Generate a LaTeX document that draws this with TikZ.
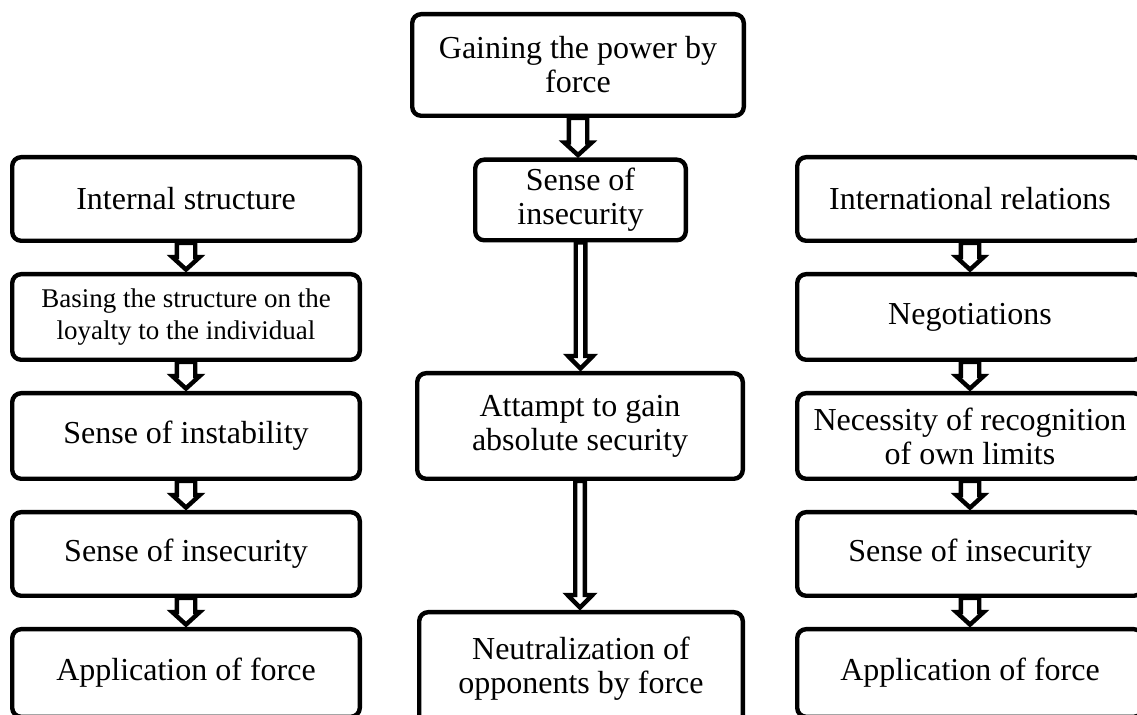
\documentclass[tikz,border=0pt]{standalone}
\usepackage{fontspec}
\setmainfont{Liberation Serif}
\usetikzlibrary{calc}

\tikzset{
    box/.style={draw, line width=2.2pt, rounded corners=4.5pt, align=center, inner sep=2pt,
        font=\fontsize{16}{17}\selectfont},
    smalltext/.style={font=\fontsize{13.5}{16}\selectfont},
    blockarrow/.style={draw, line width=2.2pt, fill=white, line join=miter},
}

% from, to, half shaft width, half head width, head length
\newcommand{\flowarrow}[5]{%
    \path let \p1=(#1.south), \p2=(#2.north) in
        [blockarrow] (\x1-#3,\y1) -- (\x1+#3,\y1) -- (\x1+#3,\y2+#5) -- (\x1+#4,\y2+#5)
        -- (\x1,\y2+1.2pt) -- (\x1-#4,\y2+#5) -- (\x1-#3,\y2+#5) -- cycle;}

\begin{document}
\begin{tikzpicture}[x=0.5pt, y=-0.5pt]
    \clip (0,0) rectangle (1137,715);

    \node[box, minimum width=165.8pt, minimum height=50.8pt] (gain) at (578,65) {Gaining the power by\\force};
    \node[box, minimum width=105.3pt, minimum height=40.3pt] (secM) at (580.5,200) {Sense of\\insecurity};
    \node[box, minimum width=162.8pt, minimum height=52.8pt] (att) at (580,426) {Attampt to gain\\absolute security};
    \node[box, minimum width=161.8pt, minimum height=56.8pt] (neut) at (581,669) {Neutralization of\\opponents by force};

    \node[box, minimum width=173.8pt, minimum height=41.8pt] (intS) at (186,199) {Internal structure};
    \node[box, smalltext, minimum width=173.8pt, minimum height=42.8pt] (basing) at (186,317) {Basing the structure on the\\loyalty to the individual};
    \node[box, minimum width=173.8pt, minimum height=42.8pt] (instab) at (186,436) {Sense of instability};
    \node[box, minimum width=173.8pt, minimum height=41.8pt] (insecL) at (186,554) {Sense of insecurity};
    \node[box, minimum width=173.8pt, minimum height=43.8pt] (forceL) at (186,673) {Application of force};

    \node[box, minimum width=172.8pt, minimum height=41.8pt] (intR) at (970,199) {International relations};
    \node[box, minimum width=172.8pt, minimum height=42.8pt] (nego) at (970,317) {Negotiations};
    \node[box, minimum width=172.8pt, minimum height=42.8pt] (nec) at (970,436) {Necessity of recognition\\of own limits};
    \node[box, minimum width=172.8pt, minimum height=41.8pt] (insecR) at (970,554) {Sense of insecurity};
    \node[box, minimum width=172.8pt, minimum height=43.8pt] (forceR) at (970,673) {Application of force};

    \flowarrow{gain}{secM}{4.6pt}{6.9pt}{7.5pt}
    \flowarrow{secM}{att}{2.4pt}{6.2pt}{7.5pt}
    \flowarrow{att}{neut}{2.4pt}{6.2pt}{7.5pt}

    \flowarrow{intS}{basing}{4.6pt}{6.9pt}{7.5pt}
    \flowarrow{basing}{instab}{4.6pt}{6.9pt}{7.5pt}
    \flowarrow{instab}{insecL}{4.6pt}{6.9pt}{7.5pt}
    \flowarrow{insecL}{forceL}{4.6pt}{6.9pt}{7.5pt}

    \flowarrow{intR}{nego}{4.6pt}{6.9pt}{7.5pt}
    \flowarrow{nego}{nec}{4.6pt}{6.9pt}{7.5pt}
    \flowarrow{nec}{insecR}{4.6pt}{6.9pt}{7.5pt}
    \flowarrow{insecR}{forceR}{4.6pt}{6.9pt}{7.5pt}
\end{tikzpicture}
\end{document}
